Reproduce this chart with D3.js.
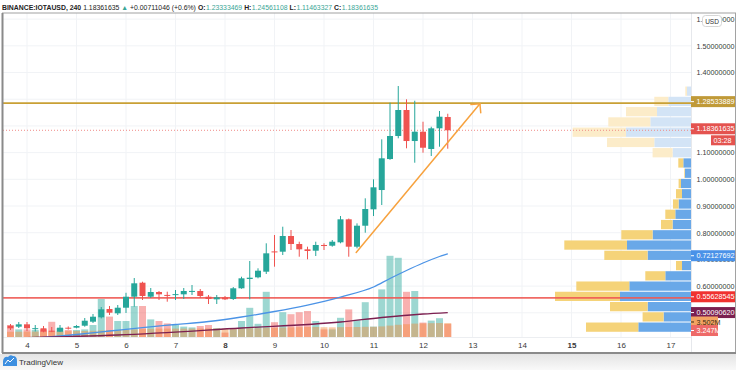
<!DOCTYPE html>
<html><head><meta charset="utf-8">
<script src="https://cdn.jsdelivr.net/npm/d3@7/dist/d3.min.js"></script>
<style>body{margin:0;background:#fff;}svg{display:block;font-family:"Liberation Sans",Arial,sans-serif;}</style>
</head><body><svg id="c" width="736" height="370"></svg>
<script>
// ---------- DATA ----------
const opens  = [0.4517,0.4480,0.4569,0.4410,0.4420,0.4330,0.4292,0.4442,0.4442,0.4517,0.4667,0.4832,0.5142,0.4981,0.5191,0.5603,0.6128,0.5603,0.5779,0.5670,0.5680,0.5693,0.5805,0.5817,0.5603,0.5505,0.5580,0.5517,0.5918,0.6266,0.6330,0.6540,0.7300,0.7289,0.7877,0.7577,0.7378,0.7326,0.7540,0.7513,0.7640,0.8502,0.7476,0.8262,0.8876,0.9599,1.0760,1.1622,1.2596,1.1434,1.1783,1.1135,1.1910,1.23333469];
const highs  = [0.4580,0.4655,0.4655,0.4543,0.4506,0.4468,0.4543,0.4490,0.4540,0.4805,0.4955,0.5217,0.5255,0.5292,0.5750,0.6303,0.6165,0.5929,0.5816,0.5791,0.5854,0.5929,0.6041,0.5891,0.5667,0.5667,0.5630,0.5966,0.6352,0.6940,0.6667,0.7603,0.7914,0.8225,0.8101,0.7663,0.7476,0.7663,0.7603,0.7727,0.8625,0.8530,0.8350,0.9288,1.0000,1.1498,1.2869,1.3494,1.2996,1.2944,1.2157,1.1970,1.2558,1.24561108];
const lows   = [0.4356,0.4431,0.4318,0.4300,0.4270,0.4275,0.4280,0.4370,0.4420,0.4480,0.4618,0.4790,0.4918,0.4918,0.4993,0.5229,0.5480,0.5555,0.5480,0.5416,0.5480,0.5517,0.5667,0.5555,0.5330,0.5330,0.5480,0.5480,0.5900,0.5506,0.6292,0.6453,0.6727,0.7165,0.7352,0.7101,0.7004,0.7127,0.7352,0.7476,0.7603,0.7101,0.7415,0.8000,0.8625,0.9037,1.0730,1.1536,1.1161,1.0622,1.0996,1.0873,1.1221,1.11463327];
const closes = [0.4420,0.4569,0.4420,0.4425,0.4292,0.4315,0.4442,0.4405,0.4506,0.4704,0.4854,0.5131,0.5004,0.5191,0.5603,0.6105,0.5630,0.5779,0.5693,0.5650,0.5700,0.5817,0.5820,0.5630,0.5517,0.5580,0.5505,0.5918,0.6292,0.6315,0.6577,0.7228,0.7280,0.7877,0.7577,0.7378,0.7315,0.7540,0.7502,0.7663,0.8502,0.7476,0.8262,0.8888,0.9700,1.0787,1.1622,1.2596,1.1434,1.1783,1.1183,1.1910,1.2345,1.18361635];
// volume in millions
const volumes = [3.0,1.9,1.9,1.75,1.9,3.8,2.2,1.75,1.75,1.9,3.0,9.5,5.1,4.0,4.0,7.75,7.75,4.4,4.0,3.4,3.0,2.6,2.4,2.75,3.0,2.2,1.1,1.9,4.0,7.3,3.3,11.3,3.7,6.2,5.7,6.2,6.5,4.0,1.9,1.9,4.8,6.9,4.25,8.7,2.6,11.9,20.3,19.8,11.3,11.5,3.6,4.1,4.7,3.247];
const volMA = [1.30,1.32,1.34,1.36,1.38,1.42,1.44,1.46,1.48,1.50,1.55,1.65,1.70,1.75,1.80,1.90,2.00,2.05,2.10,2.10,2.10,2.10,2.10,2.12,2.15,2.15,2.12,2.12,2.15,2.20,2.20,2.30,2.30,2.35,2.40,2.45,2.50,2.50,2.45,2.42,2.45,2.50,2.50,2.55,2.55,2.65,2.85,3.05,3.20,3.35,3.40,3.45,3.48,3.502];
// moving-average lines: [candle index, price]
const blueMA   = [[0,0.3944],[4,0.4075],[8,0.4188],[12,0.4318],[16,0.4449],[20,0.4562],[24,0.4674],[28,0.4843],[32,0.5049],[36,0.5292],[40,0.5592],[44,0.5966],[46,0.6285],[48,0.6585],[50,0.6865],[52,0.7109],[53,0.72127692]];
const maroonMA = [[0,0.4056],[13,0.4169],[28,0.4431],[40,0.4655],[45,0.4824],[50,0.4955],[53,0.50090620]];
// day ticks (6 candles per day, day 4 = candle 2)
const dayLabels = [4,5,6,7,8,9,10,11,12,13,14,15,16,17];
const boldDays = [8,15];
const gridPrices = [0.5,0.6,0.7,0.8,0.9,1.0,1.1,1.2,1.3,1.4,1.5,1.6];
// price labels visible on the axis (1.3, 1.2 and 0.5 are hidden behind the coloured tags)
const priceLabels = [0.6,0.7,0.8,0.9,1.0,1.1,1.4,1.5,1.6];
// horizontal levels
const goldLevel = 1.28533889, redLevel = 0.55628545, lastPrice = 1.18361635;
const blueLast = 0.72127692, maroonLast = 0.50090620, volMALast = 3.502, volLast = 3.247;
const arrowFrom = [41.9, 0.726], arrowTo = [56.9, 1.283];
// volume profile (rows from top to bottom)
const vpTop = 1.3494, vpStep = 0.03843;
const vpUp   = [4,22.7,34,40.7,65,36.7,18.4,7.7,6,10,9,12.4,15.7,18.4,38.4,64,43.4,9,25.7,61.7,71,43.4,27.4,52.7];
const vpDown = [1.7,14,31,42,53.4,47.3,20,5,0.7,2.4,6,5.6,10,11.6,31.3,62.7,43.3,6,20,53,65,37.6,21,52.3];
const vpInValueArea = [false,false,false,false,false,false,false,true,true,true,true,true,true,true,true,true,true,true,true,true,true,true,true,true];
// header
const headerParts = [['BINANCE:IOTAUSD, 240', 'bold', 'dark'], ['1.18361635', 'normal', 'dark'], ['▲', 'normal', 'teal'], ['+0.00711046 (+0.6%)', 'normal', 'dark'],
 ['O:', 'bold', 'dark'], ['1.23333469', 'normal', 'teal'], ['H:', 'bold', 'dark'], ['1.24561108', 'normal', 'teal'],
 ['L:', 'bold', 'dark'], ['1.11463327', 'normal', 'teal'], ['C:', 'bold', 'dark'], ['1.18361635', 'normal', 'teal']];

// ---------- LAYOUT ----------
const svg = d3.select('#c');
const FONT = '"Liberation Sans",Arial,sans-serif';
const L = 3, R = 691, T = 13, B = 337;
const x = d3.scaleLinear().domain([0, 80]).range([10.5, 670.5]);
const y = d3.scaleLinear().domain([0.4094, 1.6229]).range([B, T]);
const yv = d3.scaleLinear().domain([0, 20]).range([B, B - 80]);
const UP = '#26a69a', DN = '#ef5350';

svg.append('rect').attr('width', 736).attr('height', 370).attr('fill', '#fff');
const defs = svg.append('defs');
defs.append('clipPath').attr('id', 'clip').append('rect').attr('x', L).attr('y', T).attr('width', R - L).attr('height', B - T);
const grad = defs.append('linearGradient').attr('id', 'foot').attr('x1', 0).attr('y1', 0).attr('x2', 0).attr('y2', 1);
grad.append('stop').attr('offset', 0).attr('stop-color', '#e4e4e4');
grad.append('stop').attr('offset', 1).attr('stop-color', '#f9f9f9');

const plot = svg.append('g').attr('clip-path', 'url(#clip)');
// grid
const dayIdx = dayLabels.map(d => 2 + 6 * (d - 4));
plot.selectAll('.vg').data(dayIdx).join('line').attr('x1', d => x(d)).attr('x2', d => x(d)).attr('y1', T).attr('y2', B).attr('stroke', '#f1f3f6');
plot.selectAll('.hg').data(gridPrices).join('line').attr('x1', L).attr('x2', R).attr('y1', d => y(d)).attr('y2', d => y(d)).attr('stroke', '#f1f3f6');

const candles = d3.range(opens.length).map(i => ({ i, o: opens[i], h: highs[i], l: lows[i], c: closes[i], v: volumes[i], ma: volMA[i] }));
const bw = 7;
// volume
plot.selectAll('.vol').data(candles).join('rect')
  .attr('x', d => x(d.i) - bw / 2).attr('width', bw)
  .attr('y', d => yv(d.v)).attr('height', d => B - yv(d.v))
  .attr('fill', d => d.c >= d.o ? 'rgba(38,166,154,0.45)' : 'rgba(239,83,80,0.45)');
plot.selectAll('.vma').data(candles).join('rect')
  .attr('x', d => x(d.i) - bw / 2).attr('width', bw)
  .attr('y', d => yv(d.ma)).attr('height', d => B - yv(d.ma))
  .attr('fill', 'rgba(245,140,60,0.45)');

// volume profile
const vpTot = vpUp.map((u, k) => u + vpDown[k]);
const vpX = d3.scaleLinear().domain([0, d3.max(vpTot)]).range([0, 136]);
const vp = plot.append('g');
vpUp.forEach((u, k) => {
  const hi = vpTop - k * vpStep, lo = hi - vpStep;
  const y0 = y(hi) + 0.5, h = y(lo) - y(hi) - 1;
  const va = vpInValueArea[k];
  vp.append('rect').attr('x', R - vpX(u)).attr('width', vpX(u)).attr('y', y0).attr('height', h).attr('fill', va ? '#69a8e8' : '#d3e4f6');
  vp.append('rect').attr('x', R - vpX(u + vpDown[k])).attr('width', vpX(vpDown[k])).attr('y', y0).attr('height', h).attr('fill', va ? '#f5d379' : '#fcecc9');
});

// levels
plot.append('line').attr('x1', L).attr('x2', R).attr('y1', y(goldLevel)).attr('y2', y(goldLevel)).attr('stroke', '#c9a035').attr('stroke-width', 1.8);
plot.append('line').attr('x1', L).attr('x2', R).attr('y1', y(redLevel)).attr('y2', y(redLevel)).attr('stroke', '#ef5a55').attr('stroke-width', 1.8).attr('opacity', 0.9);
plot.append('line').attr('x1', L).attr('x2', R).attr('y1', y(lastPrice)).attr('y2', y(lastPrice)).attr('stroke', '#f08a87').attr('stroke-width', 1).attr('stroke-dasharray', '1 2');

// MA lines
const line = d3.line().x(d => x(d[0])).y(d => y(d[1])).curve(d3.curveMonotoneX);
plot.append('path').attr('d', line(blueMA)).attr('fill', 'none').attr('stroke', '#4b93e6').attr('stroke-width', 1.3);
plot.append('path').attr('d', line(maroonMA)).attr('fill', 'none').attr('stroke', '#7c2050').attr('stroke-width', 1.3);

// candles
const cg = plot.selectAll('.cd').data(candles).join('g');
cg.append('line').attr('x1', d => x(d.i)).attr('x2', d => x(d.i)).attr('y1', d => y(d.h)).attr('y2', d => y(d.l))
  .attr('stroke', d => d.c >= d.o ? UP : DN).attr('stroke-width', 1);
cg.append('rect').attr('x', d => x(d.i) - 3).attr('width', 6)
  .attr('y', d => y(Math.max(d.o, d.c))).attr('height', d => Math.max(1, Math.abs(y(d.o) - y(d.c))))
  .attr('fill', d => d.c >= d.o ? UP : DN);

// arrow
const ax0 = x(arrowFrom[0]), ay0 = y(arrowFrom[1]), ax1 = x(arrowTo[0]), ay1 = y(arrowTo[1]);
const ang = Math.atan2(ay0 - ay1, ax0 - ax1);
const hl = 9;
const ag = plot.append('g').attr('stroke', '#f7a23e').attr('stroke-width', 1.5).attr('fill', 'none').attr('stroke-linecap', 'round');
ag.append('line').attr('x1', ax0).attr('y1', ay0).attr('x2', ax1).attr('y2', ay1);
ag.append('path').attr('d', `M${ax1 + hl * Math.cos(ang - Math.PI / 4)},${ay1 + hl * Math.sin(ang - Math.PI / 4)}L${ax1},${ay1}L${ax1 + hl * Math.cos(ang + Math.PI / 4)},${ay1 + hl * Math.sin(ang + Math.PI / 4)}`);

// separators
svg.append('line').attr('x1', R + 0.5).attr('x2', R + 0.5).attr('y1', T).attr('y2', 353).attr('stroke', '#e6e8ec');
svg.append('line').attr('x1', L).attr('x2', R).attr('y1', B + 0.5).attr('y2', B + 0.5).attr('stroke', '#eceef1');

// price axis
const AX_FS = 7.2;
const yAxis = d3.axisRight(y).tickValues(priceLabels).tickFormat(d => d.toFixed(8)).tickSize(0).tickPadding(5.5);
const ya = svg.append('g').attr('transform', `translate(${R},0)`).call(yAxis);
ya.select('.domain').remove();
ya.selectAll('text').attr('font-size', AX_FS).attr('fill', '#3a3a3a').attr('font-family', FONT);

// time axis
const xAxis = d3.axisBottom(x).tickValues(dayIdx).tickFormat((d, k) => dayLabels[k]).tickSize(0).tickPadding(5);
const xa = svg.append('g').attr('transform', `translate(0,${B})`).call(xAxis);
xa.select('.domain').remove();
xa.selectAll('text').attr('font-size', 8).attr('fill', '#3a3a3a').attr('font-family', FONT)
  .attr('font-weight', (d, k) => boldDays.includes(dayLabels[k]) ? 'bold' : 'normal');

// colored price labels
function tag(yc, bg, txt, fg, x0, w) {
  const g = svg.append('g');
  g.append('rect').attr('x', x0).attr('y', yc - 5.5).attr('width', w).attr('height', 11).attr('fill', bg);
  g.append('line').attr('x1', x0).attr('x2', x0 + 3).attr('y1', yc).attr('y2', yc).attr('stroke', fg).attr('stroke-width', 1);
  g.append('text').attr('x', x0 + 5.5).attr('y', yc + 2.6).attr('font-size', AX_FS).attr('fill', fg).text(txt);
}
tag(y(goldLevel) - 1.5, '#c09a38', goldLevel.toFixed(8), '#fff', R, 45);
tag(y(lastPrice) - 1.5, '#e4534f', lastPrice.toFixed(8), '#fff', R, 45);
svg.append('rect').attr('x', 711).attr('y', y(lastPrice) + 5).attr('width', 24).attr('height', 10).attr('fill', '#e4534f');
svg.append('text').attr('x', 713.5).attr('y', y(lastPrice) + 12.6).attr('font-size', AX_FS).attr('fill', '#fff').text('03:28');
tag(y(blueLast) + 2, '#4a92e8', blueLast.toFixed(8), '#fff', R, 45);
tag(y(redLevel) - 1, '#f0322f', redLevel.toFixed(8), '#fff', R, 45);
tag(y(maroonLast), '#7b2050', maroonLast.toFixed(8), '#fff', R, 45);
tag(yv(volMALast) - 1, '#f3a463', volMALast.toFixed(3) + 'M', '#3a2a10', R, 27);
tag(yv(volLast) + 6.5, '#ee6a68', volLast.toFixed(3) + 'M', '#fff', R, 27);

// USD button
svg.append('rect').attr('x', 702.5).attr('y', 15.5).attr('width', 19).attr('height', 11).attr('rx', 3).attr('fill', '#fff').attr('stroke', '#d6d6d6');
svg.append('text').attr('x', 712).attr('y', 23.5).attr('text-anchor', 'middle').attr('font-size', 6.5).attr('fill', '#333').text('USD');

// frame
svg.append('rect').attr('x', 2.5).attr('y', 13).attr('width', 733).attr('height', 340).attr('fill', 'none').attr('stroke', '#a2a2a2').attr('stroke-width', 1);
svg.append('line').attr('x1', 2.5).attr('x2', 2.5).attr('y1', 13).attr('y2', 353).attr('stroke', '#8a8a8a').attr('stroke-width', 2);
svg.append('line').attr('x1', 2).attr('x2', 736).attr('y1', 353).attr('y2', 353).attr('stroke', '#8a8a8a').attr('stroke-width', 2);

// footer
svg.append('rect').attr('x', 0).attr('y', 354).attr('width', 736).attr('height', 16).attr('fill', 'url(#foot)');
svg.append('path').attr('d', 'M3,366 L3,361 Q4,356 8,357 Q10,354 13,356 Q17,356 17,361 L17,366 Z').attr('fill', '#3d8fe0');
svg.append('path').attr('d', 'M5,364 L8,360 L10,362 L14,358').attr('fill', 'none').attr('stroke', '#fff').attr('stroke-width', 1);
svg.append('text').attr('x', 19).attr('y', 365).attr('font-size', 8).attr('fill', '#333').text('TradingView');

// header: measure natural widths, then scale the font so the line spans 376px
const TEAL = '#3aa696';
const hg = svg.append('g');
const tmp = headerParts.map(([t, w]) => hg.append('text').attr('font-size', 10).attr('font-weight', w).attr('font-family', FONT).text(t));
const widths = tmp.map(s => s.node().getComputedTextLength());
tmp.forEach(s => s.remove());
const spaceW = 2.8; // in font-size-10 units
const joinGap = k => { const [t] = headerParts[k]; return t.endsWith(':') ? 0.6 : spaceW; };
let total = 0; widths.forEach((w, k) => { total += w + (k < widths.length - 1 ? joinGap(k) : 0); });
const sc = 376 / total;
let cx = 2;
headerParts.forEach(([t, w, c], k) => {
  hg.append('text').attr('x', cx).attr('y', 9.5).attr('font-size', 10 * sc).attr('font-weight', w)
    .attr('fill', c === 'teal' ? TEAL : '#222').text(t);
  cx += (widths[k] + joinGap(k)) * sc;
});
</script></body></html>
